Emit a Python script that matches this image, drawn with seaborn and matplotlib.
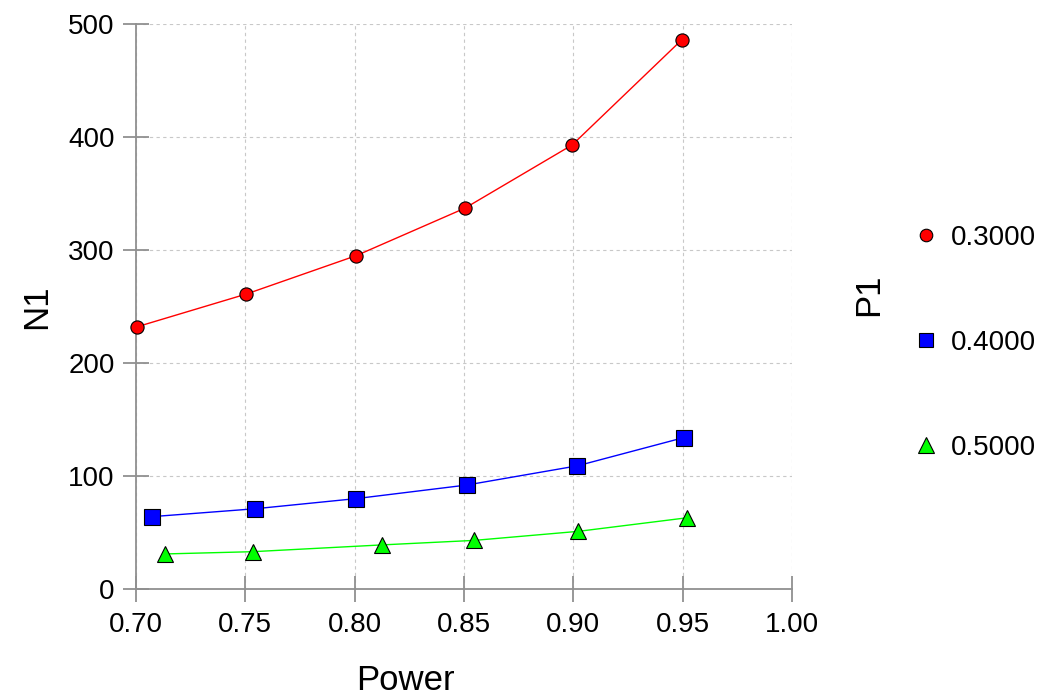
import numpy as np
import pandas as pd
import matplotlib
matplotlib.use("Agg")
import matplotlib.pyplot as plt
from matplotlib.lines import Line2D
import seaborn as sns

# --- donnees ---
p1_levels = ["0.3000", "0.4000", "0.5000"]
power_p30 = [0.7004, 0.7504, 0.8007, 0.8504, 0.8995, 0.9496]
n1_p30    = [232, 261, 295, 337, 393, 486]
power_p40 = [0.7073, 0.7545, 0.8008, 0.8513, 0.9019, 0.9506]
n1_p40    = [64, 71, 80, 92, 109, 134]
power_p50 = [0.7133, 0.7534, 0.8125, 0.8547, 0.9023, 0.9520]
n1_p50    = [31, 33, 39, 43, 51, 63]

x_ticks = [0.70, 0.75, 0.80, 0.85, 0.90, 0.95, 1.00]
y_ticks = [0, 100, 200, 300, 400, 500]

df = pd.concat([
    pd.DataFrame({"Power": power_p30, "N1": n1_p30, "P1": p1_levels[0]}),
    pd.DataFrame({"Power": power_p40, "N1": n1_p40, "P1": p1_levels[1]}),
    pd.DataFrame({"Power": power_p50, "N1": n1_p50, "P1": p1_levels[2]}),
], ignore_index=True)

colors  = {"0.3000": "#ff0000", "0.4000": "#0000ff", "0.5000": "#00ff00"}
markers = {"0.3000": "o", "0.4000": "s", "0.5000": "^"}
msizes  = {"0.3000": 9.5, "0.4000": 11, "0.5000": 11.5}

sns.set_theme(style="white")
plt.rcParams["font.family"] = ["Liberation Sans", "DejaVu Sans"]
plt.rcParams["text.color"] = "black"

fig = plt.figure(figsize=(10.4, 6.98), dpi=100)
ax = fig.add_axes([0.1308, 0.1562, 0.6307, 0.8094])

for lvl in p1_levels:
    sub = df[df["P1"] == lvl]
    sns.lineplot(data=sub, x="Power", y="N1", ax=ax, color=colors[lvl],
                 marker=markers[lvl], markersize=msizes[lvl],
                 markeredgecolor="black", markeredgewidth=0.8,
                 lw=1.0, clip_on=False, zorder=3, legend=False)

ax.set_xlim(0.70, 1.00)
ax.set_ylim(0, 500)
ax.set_xticks(x_ticks)
ax.set_xticklabels([f"{v:.2f}" for v in x_ticks])
ax.set_yticks(y_ticks)
ax.grid(True, color="#c8c8c8", lw=0.8, linestyle=(0, (3, 3)))
for s in ["top", "right"]:
    ax.spines[s].set_visible(False)
for s in ["left", "bottom"]:
    ax.spines[s].set_color("#909090")
    ax.spines[s].set_linewidth(1.3)
ax.tick_params(axis="both", direction="inout", length=19, width=1.3,
               color="#909090", labelsize=20, labelcolor="black",
               bottom=True, left=True)
ax.tick_params(axis="x", pad=7)
ax.tick_params(axis="y", pad=6)

ax.set_xlabel("Power", fontsize=25, color="black", va="center")
ax.set_ylabel("N1", fontsize=25, color="black", va="center")
ax.xaxis.set_label_coords(0.41, -0.1625)
ax.yaxis.set_label_coords(-0.152, 0.5)

handles = [Line2D([], [], color=colors[l], marker=markers[l], linestyle="None",
                  markersize=msizes[l] * 0.95, markeredgecolor="black",
                  markeredgewidth=0.8) for l in p1_levels]
fig.legend(handles, p1_levels, loc="center left", bbox_to_anchor=(0.8635, 0.509),
           frameon=False, fontsize=20, labelspacing=2.84, handlelength=1.0,
           handletextpad=0.4, borderpad=0, labelcolor="black")
fig.text(869 / 1040, 1 - 295 / 698, "P1", rotation=90, fontsize=25,
         ha="center", va="center", color="black")

plt.savefig("out.png", dpi=100)
plt.close()
